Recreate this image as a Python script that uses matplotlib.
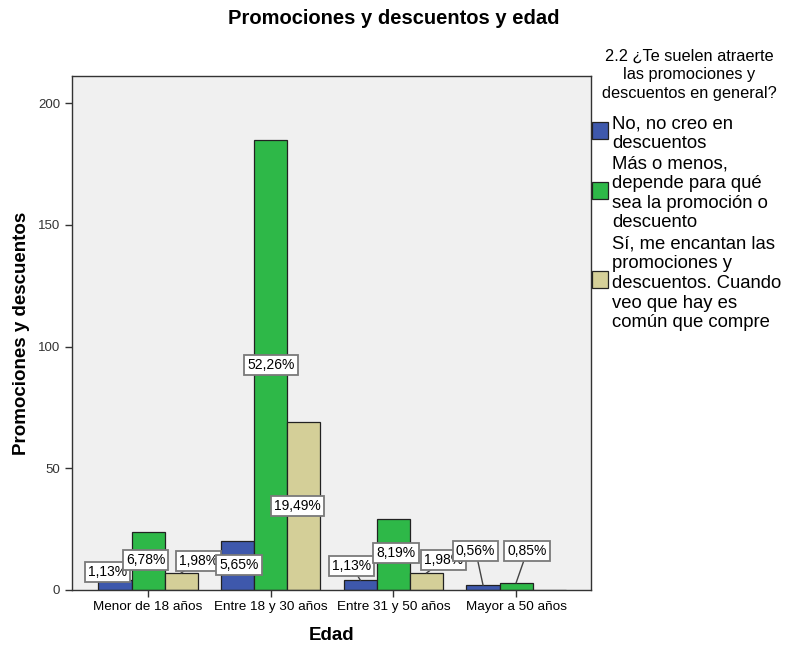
import matplotlib
matplotlib.use("Agg")
import matplotlib.pyplot as plt
from matplotlib.patches import Rectangle
import numpy as np

plt.rcParams['font.family'] = ['Liberation Sans', 'DejaVu Sans']

# Counts by age group for each answer
categories = ["Menor de 18 años", "Entre 18 y 30 años", "Entre 31 y 50 años", "Mayor a 50 años"]
no_creo = [4, 20, 4, 2]
mas_o_menos = [24, 185, 29, 3]
me_encantan = [7, 69, 7, 0]
series_labels = [
    "No, no creo en\ndescuentos",
    "Más o menos,\ndepende para qué\nsea la promoción o\ndescuento",
    "Sí, me encantan las\npromociones y\ndescuentos. Cuando\nveo que hay es\ncomún que compre",
]
legend_title = "2.2 ¿Te suelen atraerte\nlas promociones y\ndescuentos en general?"
yticks = [0, 50, 100, 150, 200]

colors = ["#3e58ac", "#2eb848", "#d4cf98"]
series = [no_creo, mas_o_menos, me_encantan]
total = sum(sum(s) for s in series)

# Label box placement: (horizontal offset from bar centre, label height) per bar
label_layout = [
    [(-0.06, 7.4), (0.01, 10.3), (-0.07, 9.9), (-0.06, 16.0)],
    [(-0.02, 12.3), (0.0, None), (0.02, 15.2), (0.09, 16.0)],
    [(0.14, 11.9), (-0.05, None), (0.14, 12.3), (0.0, None)],
]

fig = plt.figure(figsize=(7.88, 6.47), dpi=100)
ax = fig.add_axes([0.0914, 0.0881, 0.6586, 0.7944])
ax.set_facecolor("#f0f0f0")

width = 0.27
x = np.arange(len(categories))
offsets = [-width, 0, width]

for vals, col, off in zip(series, colors, offsets):
    ax.bar(x + off, vals, width, color=col, edgecolor="#222222", linewidth=0.9, zorder=2)

# Value labels, drawn group by group so later groups sit on top
z = 5
for ci in range(len(categories)):
    for si, (vals, off) in enumerate(zip(series, offsets)):
        v = vals[ci]
        if v == 0:
            continue
        dx, ly = label_layout[si][ci]
        if ly is None:
            ly = v / 2
        bx = x[ci] + off
        txt = f"{v / total * 100:.2f}%".replace(".", ",")
        if ly > v:
            ax.plot([bx + dx, bx], [ly, v], color="#444444", lw=1.0, zorder=3)
        ax.text(bx + dx, ly, txt, ha="center", va="center", fontsize=10, zorder=z,
                bbox=dict(boxstyle="square,pad=0.22", fc="white", ec="#7a7a7a", lw=1.3))
        z += 1

ax.set_xlim(-0.62, 3.61)
ax.set_ylim(0, 211.1)
ax.set_xticks(x)
ax.set_xticklabels(categories, fontsize=9.7)
ax.set_yticks(yticks)
ax.set_yticklabels([str(t) for t in yticks], fontsize=9.5, color="#333333")
ax.tick_params(axis="both", direction="out", length=5, width=1, color="#333333")
ax.tick_params(axis="x", pad=3)
for sp in ax.spines.values():
    sp.set_color("#333333")
    sp.set_linewidth(1.0)

ax.set_xlabel("Edad", fontsize=13.5, fontweight="bold", labelpad=10)
ax.set_ylabel("Promociones y descuentos", fontsize=13.5, fontweight="bold", labelpad=6)
fig.text(0.5, 1 - 18 / 647, "Promociones y descuentos y edad", ha="center", va="center",
         fontsize=14.5, fontweight="bold")

# Legend drawn beside the plot
W, H = 788, 647
fig.text(689 / W, 1 - 75 / H, legend_title, ha="center", va="center", fontsize=11.8,
         linespacing=1.3)
sq_centers = [130, 190, 280]
for lab, col, cy in zip(series_labels, colors, sq_centers):
    fig.add_artist(Rectangle((592 / W, 1 - (cy + 8.5) / H), 16 / W, 17 / H,
                             transform=fig.transFigure, facecolor=col,
                             edgecolor="#222222", lw=0.9))
    fig.text(612 / W, 1 - (cy + 3.5) / H, lab, ha="left", va="center", fontsize=13.3,
             linespacing=1.2)

fig.savefig("out.png", dpi=100)
